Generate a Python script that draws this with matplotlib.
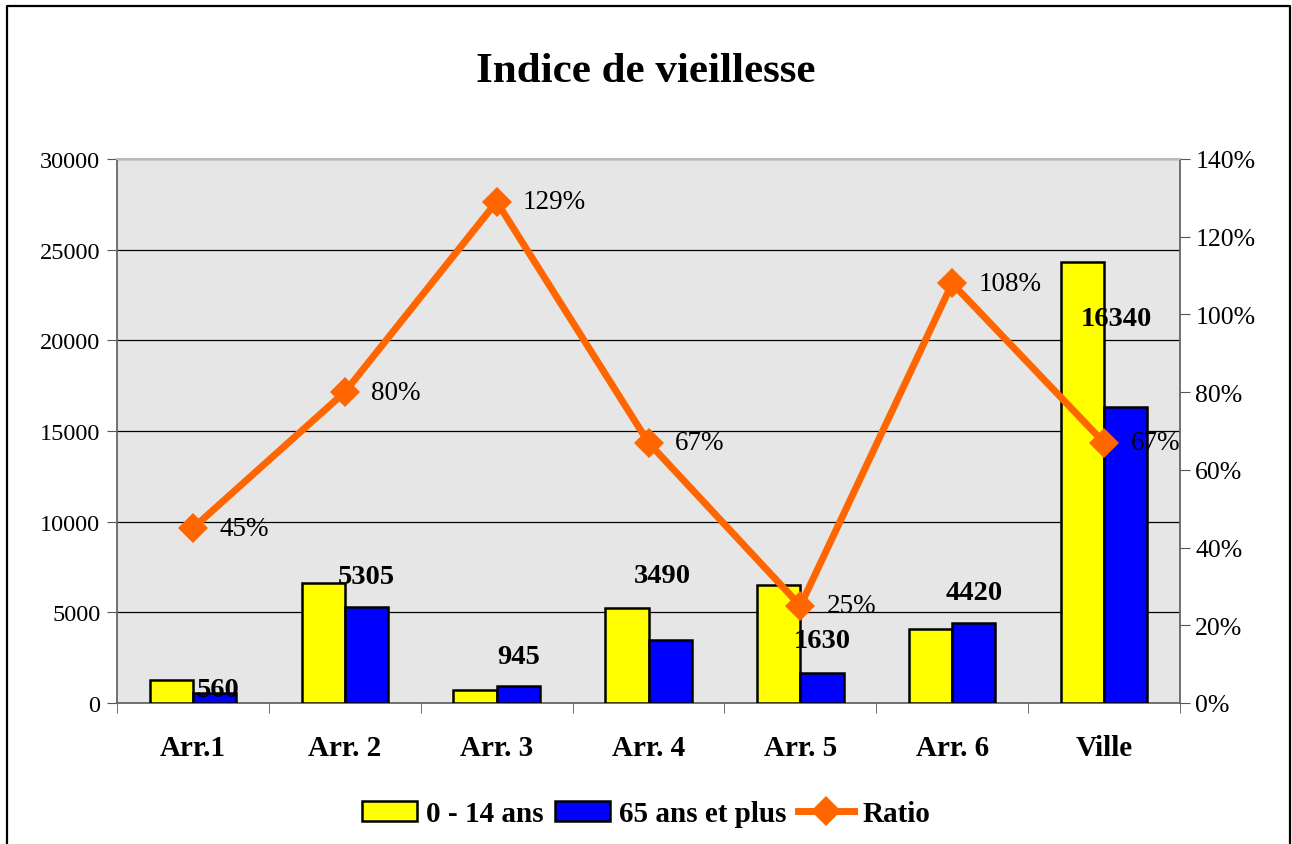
import matplotlib.pyplot as plt
import numpy as np
from matplotlib.lines import Line2D

plt.rcParams['font.family'] = ['Liberation Serif', 'DejaVu Serif']

categories = ['Arr.1', 'Arr. 2', 'Arr. 3', 'Arr. 4', 'Arr. 5', 'Arr. 6', 'Ville']
jeunes = [1245, 6630, 730, 5210, 6500, 4090, 24300]
vieux = [560, 5305, 945, 3490, 1630, 4420, 16340]
ratio = [45, 80, 129, 67, 25, 108, 67]

# where the bold value labels sit above each blue bar (data units)
label_dy = [210, 1645, 1645, 3515, 1790, 1647, 4850]
label_dx = [0.02, 0, 0, -0.05, 0, 0, -0.06]

fig = plt.figure(figsize=(12.92, 8.45), dpi=100)
ax = fig.add_axes([0.0906, 0.1669, 0.8227, 0.6438])
ax.set_facecolor('#E6E6E6')

x = np.arange(len(categories))
w = 0.285
ax.bar(x - w / 2, jeunes, w, color='#FFFF00', edgecolor='black', linewidth=1.8, label='0 - 14 ans', zorder=3)
ax.bar(x + w / 2, vieux, w, color='#0000FF', edgecolor='black', linewidth=1.8, label='65 ans et plus', zorder=3)

for i, v in enumerate(vieux):
    ax.text(x[i] + w / 2 + label_dx[i], v + label_dy[i], str(v), ha='center', va='center',
            fontsize=20.5, fontweight='bold', zorder=6)

ax.set_xlim(-0.5, len(categories) - 0.5)
ax.set_ylim(0, 30000)
ax.set_yticks(np.arange(0, 30001, 5000))
ax.yaxis.grid(True, color='black', linewidth=0.9, zorder=1)
ax.set_axisbelow(True)
ax.set_xticks(x)
ax.set_xticklabels(categories, fontsize=21, fontweight='bold')
ax.set_xticks(np.arange(-0.5, len(categories), 1), minor=True)
ax.tick_params(axis='x', which='major', length=0, pad=22)
ax.tick_params(axis='x', which='minor', length=7, color='#555555')
ax.tick_params(axis='y', labelsize=17.5, length=7, color='#555555', pad=5)
for s in ['left', 'bottom', 'right']:
    ax.spines[s].set_color('#666666')
    ax.spines[s].set_linewidth(1.3)
ax.spines['top'].set_color('#BBBBBB')
ax.spines['top'].set_linewidth(1.5)

ax2 = ax.twinx()
ax2.plot(x, ratio, color='#FF6600', linewidth=5, marker='D', markersize=15,
         markeredgewidth=0, label='Ratio', zorder=5)
for i, r in enumerate(ratio):
    ax2.annotate(f'{r}%', (x[i], r), xytext=(19, 0), textcoords='offset points',
                 ha='left', va='center', fontsize=19.5)
ax2.set_ylim(0, 140)
ax2.set_yticks(np.arange(0, 141, 20))
ax2.set_yticklabels([f'{t}%' for t in range(0, 141, 20)])
ax2.tick_params(axis='y', labelsize=18.5, length=7, color='#555555', pad=4)
for s in ax2.spines.values():
    s.set_visible(False)

fig.text(0.5, 0.915, 'Indice de vieillesse', ha='center', va='center', fontsize=31, fontweight='bold')

h1, l1 = ax.get_legend_handles_labels()
h2, l2 = ax2.get_legend_handles_labels()
fig.legend(h1 + h2, l1 + l2, loc='center', bbox_to_anchor=(0.5, 0.036), ncol=3, frameon=False,
           prop={'weight': 'bold', 'size': 21}, handlelength=1.9, handleheight=0.65,
           handletextpad=0.3, columnspacing=0.4)

# outer chart border (left, top, right)
fig.add_artist(Line2D([0.0058, 0.0058, 0.9985, 0.9985], [0.0, 0.992, 0.992, 0.0],
                      transform=fig.transFigure, color='black', linewidth=1.6))

fig.savefig('out.png', dpi=100)
